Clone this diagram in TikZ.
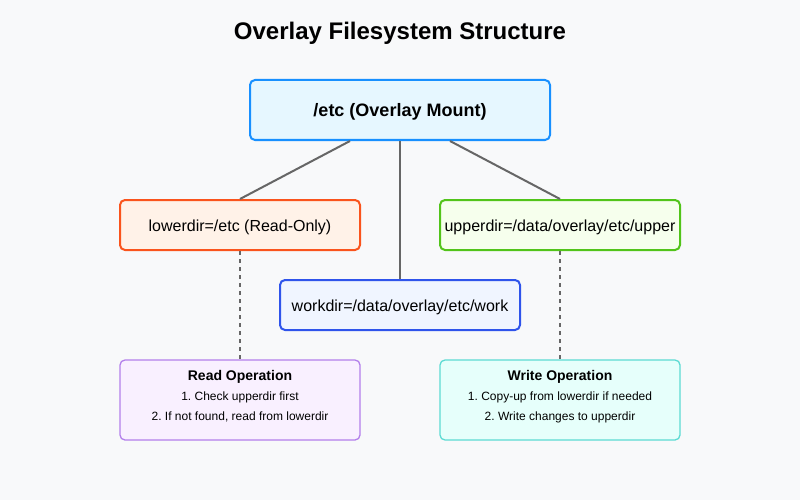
\documentclass[tikz,border=0pt]{standalone}
\usepackage{fontspec}
\setmainfont{Liberation Sans}
\usetikzlibrary{calc}
\definecolor{bg}{HTML}{F8F9FA}
\definecolor{linec}{HTML}{666666}
\newcommand{\lowr}[1]{\raisebox{-2pt}[\height][\depth]{#1}}
\begin{document}
\frenchspacing
\begin{tikzpicture}[x=1pt,y=-1pt,
  box/.style={draw, line width=2pt, rounded corners=5pt, minimum width=240pt, minimum height=50pt, inner sep=0pt, font=\fontsize{16}{18}\selectfont, text=black},
  opbox/.style={draw, line width=1.3pt, rounded corners=5pt, minimum width=240pt, minimum height=80pt, inner sep=0pt},
  conn/.style={draw=linec, line width=2pt},
  dconn/.style={conn, dash pattern=on 4pt off 4pt},
  ttl/.style={font=\fontsize{14}{16}\selectfont\bfseries},
  itm/.style={font=\fontsize{12}{14}\selectfont}]
\fill[bg] (0,0) rectangle (800,500);
\useasboundingbox (0,0) rectangle (800,500);
\node[font=\fontsize{24}{28}\selectfont\bfseries] (title) at (400,33) {Overlay Filesystem Structure};
\node[box, draw={rgb,255:red,24;green,144;blue,255}, fill={rgb,255:red,230;green,247;blue,255}, minimum width=300pt, minimum height=60pt, font=\fontsize{18}{20}\selectfont\bfseries] (top) at (400,110) {\lowr{/etc (Overlay Mount)}};
\node[box, draw={rgb,255:red,250;green,84;blue,28}, fill={rgb,255:red,255;green,242;blue,232}] (lower) at (240,225) {\lowr{lowerdir=/etc (Read-Only)}};
\node[box, draw={rgb,255:red,82;green,196;blue,26}, fill={rgb,255:red,246;green,255;blue,237}] (upper) at (560,225) {\lowr{upperdir=/data/overlay/etc/upper}};
\node[box, draw={rgb,255:red,47;green,84;blue,235}, fill={rgb,255:red,240;green,245;blue,255}] (work) at (400,305) {\lowr{workdir=/data/overlay/etc/work}};
\node[opbox, draw={rgb,255:red,179;green,127;blue,235}, fill={rgb,255:red,249;green,240;blue,255}] (read) at (240,400) {};
\node[opbox, draw={rgb,255:red,92;green,219;blue,211}, fill={rgb,255:red,230;green,255;blue,251}] (write) at (560,400) {};
\node[ttl] (rt) at (240,377) {Read Operation};
\node[itm] (r1) at (240,397) {1. Check upperdir first};
\node[itm] (r2) at (240,417) {2. If not found, read from lowerdir};
\node[ttl] (wt) at (560,377) {Write Operation};
\node[itm] (w1) at (560,397) {1. Copy-up from lowerdir if needed};
\node[itm] (w2) at (560,417) {2. Write changes to upperdir};
\draw[conn] ([xshift=-50pt]top.south) -- (lower.north);
\draw[conn] (top.south) -- (work.north);
\draw[conn] ([xshift=50pt]top.south) -- (upper.north);
\draw[dconn] (lower.south) -- (read.north);
\draw[dconn] (upper.south) -- (write.north);
\end{tikzpicture}
\end{document}
